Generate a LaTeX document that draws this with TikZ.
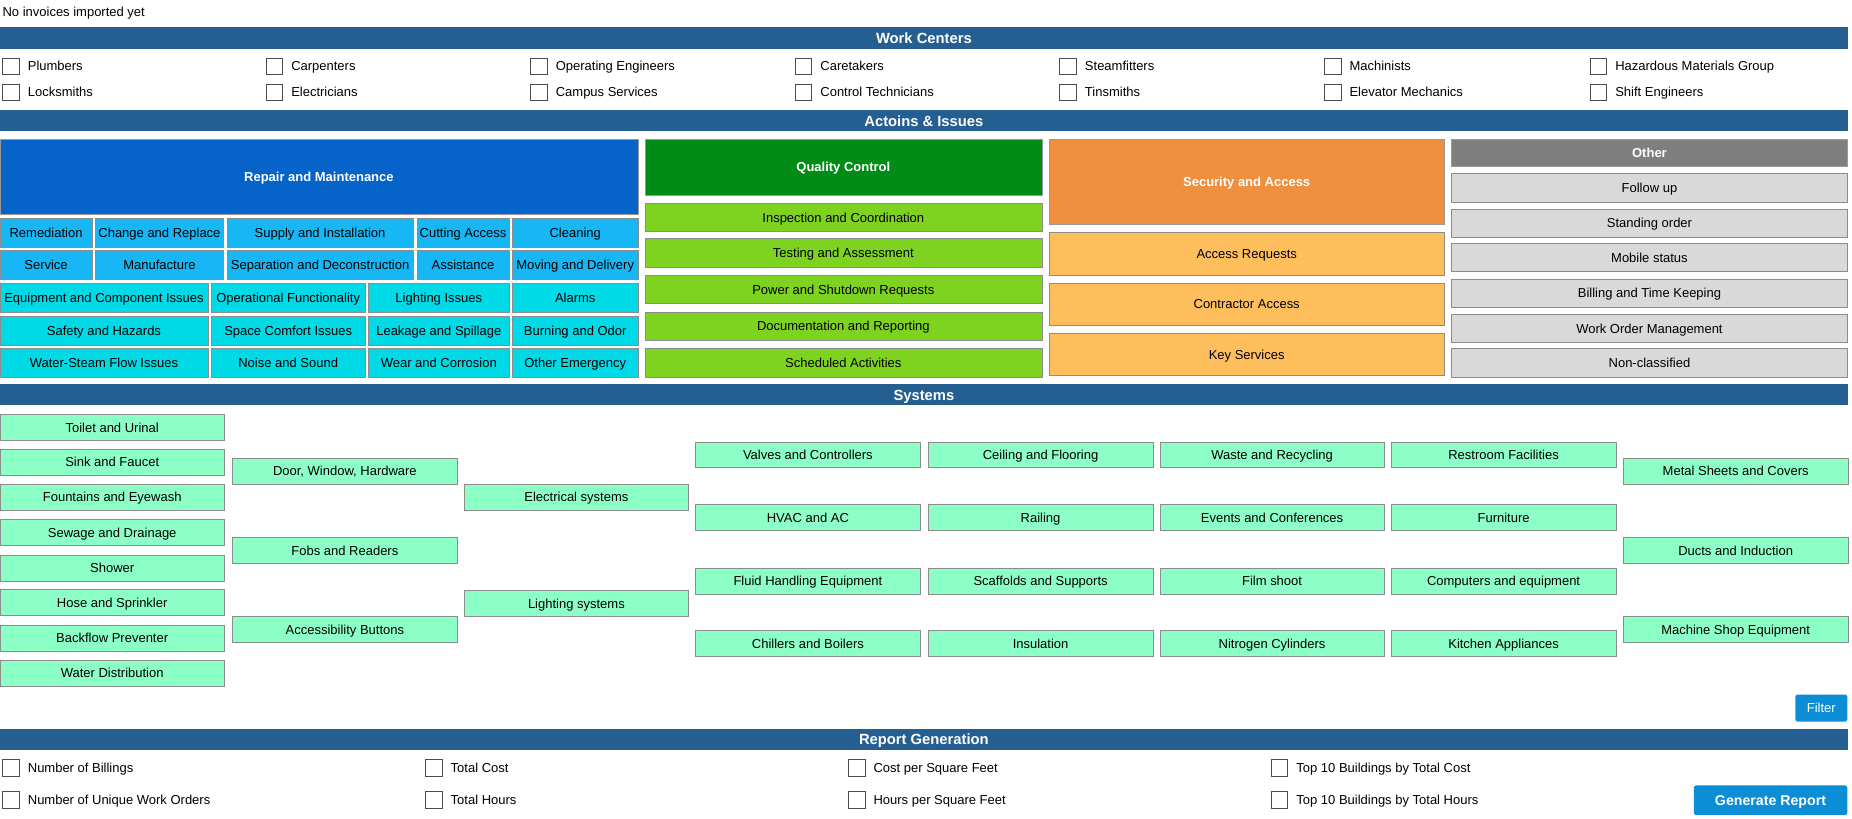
\documentclass[tikz,border=0pt]{standalone}
\usepackage{fontspec}
\setmainfont{Liberation Sans}
\usetikzlibrary{positioning}
\definecolor{bar}{HTML}{255E91}
\definecolor{repair}{HTML}{0563C9}
\definecolor{repairA}{HTML}{16B7F4}
\definecolor{repairB}{HTML}{00D9E6}
\definecolor{quality}{HTML}{008C17}
\definecolor{qualityA}{HTML}{7ED321}
\definecolor{security}{HTML}{F0903F}
\definecolor{securityA}{HTML}{FFBE5C}
\definecolor{other}{HTML}{7F7F7F}
\definecolor{otherA}{HTML}{D9D9D9}
\definecolor{sys}{HTML}{8CFFC6}
\definecolor{action}{HTML}{0B8ED6}
\tikzset{
  txt/.style={font=\fontsize{11}{13}\selectfont, inner sep=0pt, text height=9.5pt, text depth=1.5pt},
  bar/.style={fill=bar, text=white, font=\fontsize{12.5}{14}\selectfont\bfseries, inner sep=0pt, text height=10.5pt, text depth=1.5pt, minimum height=18pt, minimum width=1564pt, anchor=north west},
  head/.style={text=white, font=\fontsize{11}{13}\selectfont\bfseries, inner sep=0pt, text height=9.5pt, text depth=1.5pt, draw=black!40},
  btn/.style={txt, draw=black!45, minimum height=24pt},
  chk/.style={draw=black!70, minimum size=14pt, inner sep=0pt, fill=white},
  act/.style={fill=action, text=white, rounded corners=2pt, inner sep=0pt},
}
\begin{document}
\begin{tikzpicture}[x=1pt,y=-1pt]
\useasboundingbox (0,0) rectangle (1568,693);
\node[txt, anchor=west] (status) at (2,10) {No invoices imported yet};
% work centers
\node[bar] (wc) at (0,23) {Work Centers};
\foreach \col/\x/\a/\b in {1/2/Plumbers/Locksmiths, 2/225/Carpenters/Electricians,
  3/449/Operating Engineers/Campus Services, 4/673/Caretakers/Control Technicians,
  5/897/Steamfitters/Tinsmiths, 6/1121/Machinists/Elevator Mechanics,
  7/1346/Hazardous Materials Group/Shift Engineers} {
  \node[chk, anchor=west] (wca\col) at (\x,56) {};
  \node[txt, right=7pt of wca\col] {\a};
  \node[chk, anchor=west] (wcb\col) at (\x,78) {};
  \node[txt, right=7pt of wcb\col] {\b};
}
% actions and issues
\node[bar] (ai) at (0,93) {Actoins \& Issues};
\node[head, fill=repair, minimum width=540pt, minimum height=63pt] (repair) at (270,149.5) {Repair and Maintenance};
\foreach \x/\y/\w/\t in {39/197/78/Remediation, 135/197/108/Change and Replace,
  271/197/158/Supply and Installation, 392/197/78/Cutting Access, 487/197/106/Cleaning,
  39/224/78/Service, 135/224/108/Manufacture, 271/224/158/Separation and Deconstruction,
  392/224/78/Assistance, 487/224/106/Moving and Delivery}
  \node[btn, fill=repairA, minimum width=\w pt] at (\x,\y) {\t};
\foreach \x/\y/\w/\t in {88/252/176/Equipment and Component Issues, 244/252/130/Operational Functionality,
  371.5/252/119/Lighting Issues, 487/252/106/Alarms,
  88/280/176/Safety and Hazards, 244/280/130/Space Comfort Issues,
  371.5/280/119/Leakage and Spillage, 487/280/106/Burning and Odor,
  88/307/176/Water-Steam Flow Issues, 244/307/130/Noise and Sound,
  371.5/307/119/Wear and Corrosion, 487/307/106/Other Emergency}
  \node[btn, fill=repairB, minimum width=\w pt] at (\x,\y) {\t};
\node[head, fill=quality, minimum width=336pt, minimum height=47pt] (quality) at (714,141.5) {Quality Control};
\foreach \y/\t in {184/Inspection and Coordination, 214/Testing and Assessment,
  245/Power and Shutdown Requests, 276/Documentation and Reporting, 307/Scheduled Activities}
  \node[btn, fill=qualityA, minimum width=336pt] at (714,\y) {\t};
\node[head, fill=security, minimum width=335pt, minimum height=72pt] (security) at (1055.5,154) {Security and Access};
\foreach \y/\t in {215/Access Requests, 257.5/Contractor Access, 300/Key Services}
  \node[btn, fill=securityA, minimum width=335pt, minimum height=36pt] at (1055.5,\y) {\t};
\node[head, fill=other, minimum width=335pt, minimum height=23pt] (other) at (1396.5,129.5) {Other};
\foreach \y/\t in {159/Follow up, 189/Standing order, 218/Mobile status,
  248/Billing and Time Keeping, 278/Work Order Management, 307/Non-classified}
  \node[btn, fill=otherA, minimum width=335pt] at (1396.5,\y) {\t};
% systems
\node[bar] (sy) at (0,325) {Systems};
\tikzset{sb/.style={btn, fill=sys, minimum width=190pt, minimum height=22pt}}
\foreach \y/\t in {362/Toilet and Urinal, 391/Sink and Faucet, 421/Fountains and Eyewash,
  451/Sewage and Drainage, 481/Shower, 510/Hose and Sprinkler, 540/Backflow Preventer, 570/Water Distribution}
  \node[sb] at (95,\y) {\t};
\foreach \y/\t in {399/{Door, Window, Hardware}, 466/Fobs and Readers, 533/Accessibility Buttons}
  \node[sb] at (292,\y) {\t};
\foreach \y/\t in {421/Electrical systems, 511/Lighting systems}
  \node[sb] at (488,\y) {\t};
\foreach \x/\a/\b/\c/\d in {684/Valves and Controllers/HVAC and AC/Fluid Handling Equipment/Chillers and Boilers,
  881/Ceiling and Flooring/Railing/Scaffolds and Supports/Insulation,
  1077/Waste and Recycling/Events and Conferences/Film shoot/Nitrogen Cylinders,
  1273/Restroom Facilities/Furniture/Computers and equipment/Kitchen Appliances} {
  \node[sb] at (\x,385) {\a};
  \node[sb] at (\x,438) {\b};
  \node[sb] at (\x,492) {\c};
  \node[sb] at (\x,545) {\d};
}
\foreach \y/\t in {399/Metal Sheets and Covers, 466/Ducts and Induction, 533/Machine Shop Equipment}
  \node[sb] at (1469.5,\y) {\t};
\node[act, txt, text=white, minimum width=44pt, minimum height=23pt] (filter) at (1542,599.5) {Filter};
% report generation
\node[bar] (rg) at (0,617) {Report Generation};
\foreach \col/\x/\a/\b in {1/2/Number of Billings/Number of Unique Work Orders,
  2/360/Total Cost/Total Hours, 3/718/Cost per Square Feet/Hours per Square Feet,
  4/1076/Top 10 Buildings by Total Cost/Top 10 Buildings by Total Hours} {
  \node[chk, anchor=west] (rga\col) at (\x,650) {};
  \node[txt, right=7pt of rga\col] {\a};
  \node[chk, anchor=west] (rgb\col) at (\x,677) {};
  \node[txt, right=7pt of rgb\col] {\b};
}
\node[act, font=\fontsize{12}{14}\selectfont\bfseries, text height=10.5pt, text depth=1.5pt, minimum width=130pt, minimum height=25pt] (generate) at (1499,677.5) {Generate Report};
\end{tikzpicture}
\end{document}
